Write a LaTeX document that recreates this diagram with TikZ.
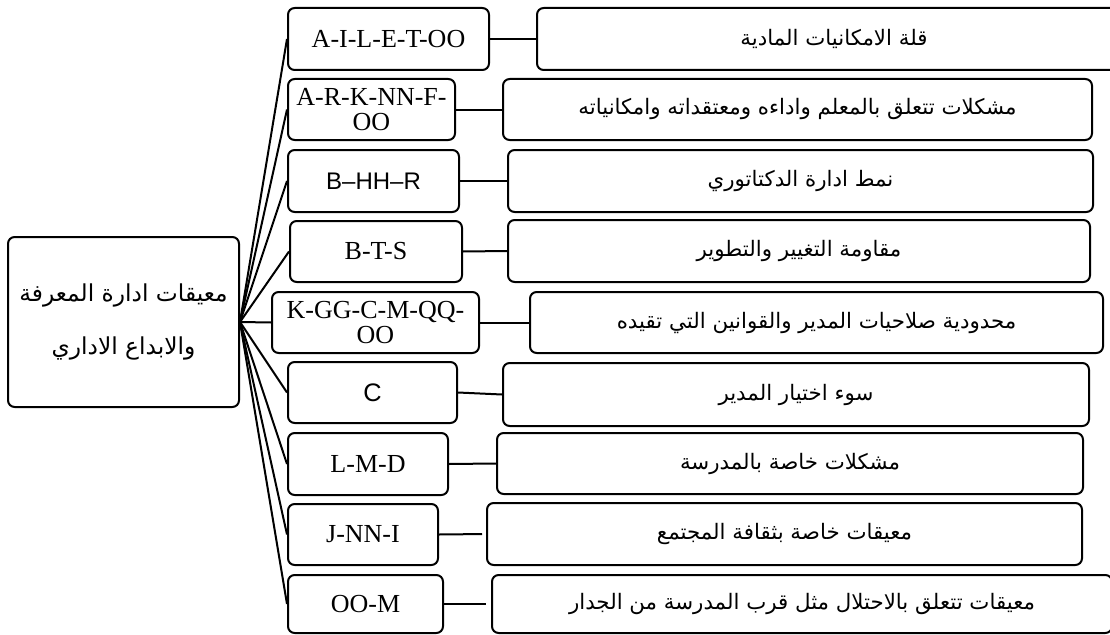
\documentclass[tikz,border=0pt]{standalone}
\usepackage{fontspec}
\setmainfont{Liberation Serif}
\newfontfamily\arabicfont[Script=Arabic]{DejaVu Sans}
\newfontfamily\latinsans{Liberation Sans}
\TeXXeTstate=1
\newcommand\rtl[1]{\beginR #1\endR}

% \boxnode[style]{name}{x1}{y1}{x2}{y2}{text}: node spanning the given corners (px)
\newcommand\boxnode[7][]{%
  \pgfmathsetmacro\bcx{(#3+#5)/2}%
  \pgfmathsetmacro\bcy{(#4+#6)/2}%
  \pgfmathsetmacro\bw{(#5-#3)*0.75}%
  \pgfmathsetmacro\bh{(#6-#4)*0.75}%
  \node[#1, minimum width=\bw pt, minimum height=\bh pt] (#2) at (\bcx,\bcy) {#7};}

\begin{document}
\begin{tikzpicture}[x=0.75pt,y=-0.75pt,
  box/.style={draw, line width=1.5pt, rounded corners=5pt, inner sep=0pt},
  code/.style={box, font=\fontsize{19.5}{19}\selectfont, align=center},
  reason/.style={box, font=\arabicfont\fontsize{16}{19}\selectfont},
  link/.style={line width=1.5pt}]
\useasboundingbox (0,0) rectangle (1110,635);

% central topic
\boxnode[box, align=center, font=\arabicfont\fontsize{17.5}{40}\selectfont]{root}{8}{237}{239}{407}
  {\rtl{معيقات ادارة المعرفة}\\\rtl{والابداع الاداري}}

% code boxes
\boxnode[code]{c1}{288}{8}{489}{70}{A-I-L-E-T-OO}
\boxnode[code]{c2}{288}{79}{455}{140}{A-R-K-NN-F-\\OO}
\boxnode[code, font=\latinsans\fontsize{18}{18}\selectfont]{c3}{288}{150}{459}{212}{B–HH–R}
\boxnode[code]{c4}{290}{221}{462}{282}{B-T-S}
\boxnode[code]{c5}{272}{292}{479}{353}{K-GG-C-M-QQ-\\OO}
\boxnode[code, font=\latinsans\fontsize{19}{19}\selectfont]{c6}{288}{362}{457}{423}{C}
\boxnode[code]{c7}{288}{433}{448}{495}{L-M-D}
\boxnode[code]{c8}{288}{504}{438}{565}{J-NN-I}
\boxnode[code]{c9}{288}{575}{443}{633}{OO-M}

% obstacle boxes
\boxnode[reason]{r1}{537}{8}{1131}{70}{\rtl{قلة الامكانيات المادية}}
\boxnode[reason]{r2}{503}{79}{1092}{140}{\rtl{مشكلات تتعلق بالمعلم واداءه ومعتقداته وامكانياته}}
\boxnode[reason]{r3}{508}{150}{1093}{212}{\rtl{نمط ادارة الدكتاتوري}}
\boxnode[reason]{r4}{508}{220}{1090}{282}{\rtl{مقاومة التغيير والتطوير}}
\boxnode[reason]{r5}{530}{292}{1103}{353}{\rtl{محدودية صلاحيات المدير والقوانين التي تقيده}}
\boxnode[reason]{r6}{503}{363}{1089}{426}{\rtl{سوء اختيار المدير}}
\boxnode[reason]{r7}{497}{433}{1083}{494}{\rtl{مشكلات خاصة بالمدرسة}}
\boxnode[reason]{r8}{487}{503}{1082}{565}{\rtl{معيقات خاصة بثقافة المجتمع}}
\boxnode[reason]{r9}{492}{575}{1112}{633}{\rtl{معيقات تتعلق بالاحتلال مثل قرب المدرسة من الجدار}}

% fan from the central topic to the codes
\foreach \i in {1,...,9}
  \draw[link] (root.east) -- (c\i.west);

% codes to their obstacles
\foreach \i in {1,...,7}
  \draw[link] (c\i.east) -- (r\i.west);
\draw[link, shorten >=3pt] (c8.east) -- (r8.west);
\draw[link, shorten >=3.5pt] (c9.east) -- (r9.west);
\end{tikzpicture}
\end{document}
